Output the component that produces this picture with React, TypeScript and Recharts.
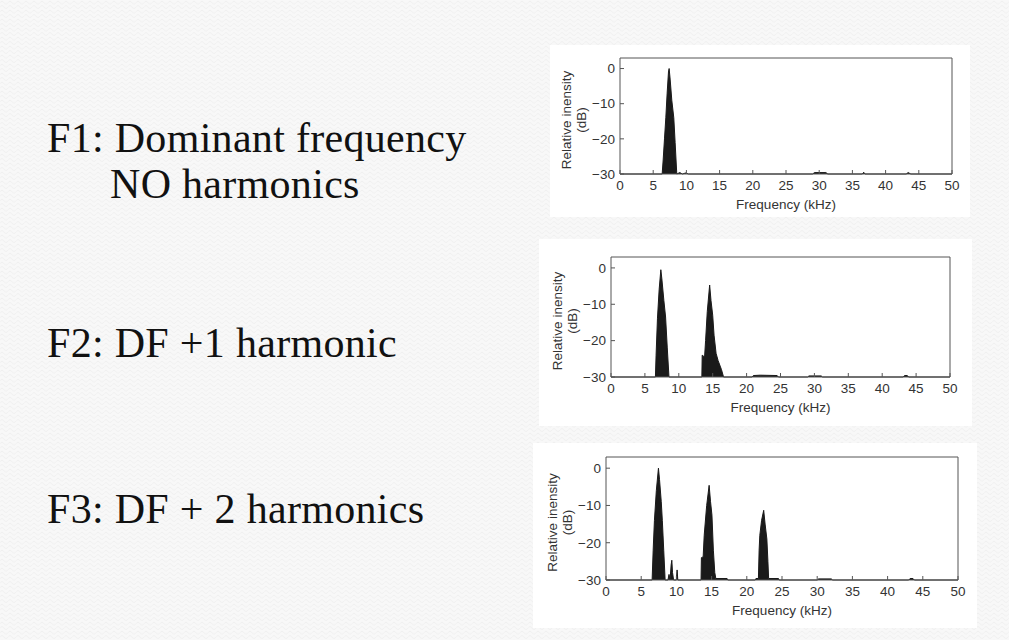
import React from "react";
import { ComposedChart, Area, XAxis, YAxis, Label } from "recharts";

/* ------------------------------------------------------------------ */
/*  Data (kHz vs relative dB)            */
/* ------------------------------------------------------------------ */
const X_TICKS = [0, 5, 10, 15, 20, 25, 30, 35, 40, 45, 50];
const Y_TICKS = [0, -10, -20, -30];
const X_TITLE = "Frequency (kHz)";
const Y_TITLE = ["Relative inensity", "(dB)"];

// F1: dominant frequency only
const F1_KHZ = [0, 6.35, 6.5, 6.7, 6.9, 7.1, 7.3, 7.4, 7.55, 7.8, 8.1, 8.3, 8.55, 9.0, 9.4, 9.9, 10.3, 29.0, 29.3, 31.0, 31.3, 36.5, 36.7, 36.9, 43.1, 43.4, 43.8, 50];
const F1_DB = [-30, -30, -26, -20, -14, -7, -1, 0, -3, -9, -14, -21, -30, -29.6, -30, -29.7, -30, -30, -29.6, -29.6, -30, -30, -29.5, -30, -30, -29.6, -30, -30];

// F2: dominant + 1 harmonic
const F2_KHZ = [0, 6.55, 6.65, 6.85, 7.1, 7.35, 7.5, 7.8, 8.05, 8.3, 8.55, 13.4, 13.45, 13.8, 13.95, 14.2, 14.55, 14.75, 15.0, 15.2, 15.5, 15.8, 16.1, 16.3, 16.6, 20.8, 21.0, 22.0, 24.5, 24.7, 29.0, 29.2, 31.0, 31.2, 43.1, 43.3, 43.7, 43.9, 50];
const F2_DB = [-30, -30, -24, -14, -6, -0.5, -3, -9, -13.5, -22, -30, -30, -24, -24.5, -20, -12, -4.7, -9, -13, -18.5, -23.5, -25.5, -27, -28, -30, -30, -29.6, -29.5, -29.6, -30, -30, -29.7, -29.7, -30, -30, -29.6, -29.6, -30, -30];

// F3: dominant + 2 harmonics
const F3_KHZ = [0, 6.55, 6.7, 6.88, 7.15, 7.45, 7.6, 7.85, 8.0, 8.2, 8.4, 8.8, 8.95, 9.1, 9.25, 9.35, 9.45, 9.6, 10.0, 10.1, 10.2, 13.5, 13.55, 13.8, 13.95, 14.3, 14.65, 14.85, 15.05, 15.25, 15.45, 15.6, 17.2, 17.3, 21.2, 21.3, 21.65, 21.75, 21.85, 22.1, 22.4, 22.6, 22.85, 23.0, 23.1, 24.5, 24.6, 30.0, 30.2, 32.0, 32.2, 43.0, 43.2, 43.6, 43.8, 50];
const F3_DB = [-30, -30, -22, -14, -6, 0, -3, -9, -14, -22, -30, -30, -28.5, -30, -26, -24.7, -28, -30, -30, -27.3, -30, -30, -24, -23.8, -18, -10, -4.6, -9, -12.6, -22, -28, -29.6, -29.6, -30, -30, -29.6, -29.6, -22, -18, -14, -11.3, -15, -19, -25, -29.6, -29.6, -30, -30, -29.7, -29.7, -30, -30, -29.6, -29.6, -30, -30];

const toRows = (khz: number[], db: number[]) => khz.map((f, i) => ({ f, db: db[i] }));

/* ------------------------------------------------------------------ */
/*  Slide layout                                                      */
/* ------------------------------------------------------------------ */
const SLIDE_TEXT = [
  { text: "F1: Dominant frequency", x: 47, y: 152 },
  { text: "NO harmonics", x: 110, y: 198 },
  { text: "F2: DF +1 harmonic", x: 47, y: 357 },
  { text: "F3: DF + 2 harmonics", x: 47, y: 523 },
];

// panel box on the page + plot box [left, top, right, bottom] inside the panel
const PANELS = [
  { key: "f1", left: 550, top: 45, width: 420, height: 172, plot: [70, 13, 402, 129], rows: toRows(F1_KHZ, F1_DB) },
  { key: "f2", left: 539, top: 239, width: 433, height: 187, plot: [72, 18, 411, 138], rows: toRows(F2_KHZ, F2_DB) },
  { key: "f3", left: 533, top: 443, width: 444, height: 185, plot: [73, 14, 425, 137], rows: toRows(F3_KHZ, F3_DB) },
];

const AXIS = "#555";
const INK = "#1a1a1a";
const SANS = "'Liberation Sans', Arial, sans-serif";
const Y_AXIS_W = 40;
const X_AXIS_H = 40;

const fmtDb = (v: number) => (v < 0 ? `\u2212${-v}` : `${v}`);

type Panel = (typeof PANELS)[number];

const Spectrum: React.FC<{ p: Panel }> = ({ p }) => {
  const [pl, pt, pr, pb] = p.plot;
  const margin = {
    left: pl - Y_AXIS_W,
    top: pt - 1,
    right: p.width - pr - 1,
    bottom: p.height - pb - X_AXIS_H,
  };
  const midY = (pt + pb) / 2 + 4;

  return (
    <div
      style={{
        position: "absolute",
        left: p.left,
        top: p.top,
        width: p.width,
        height: p.height,
        background: "#fff",
      }}
    >
      <ComposedChart width={p.width} height={p.height} data={p.rows} margin={margin}>
        <XAxis
          dataKey="f"
          type="number"
          domain={[0, 50]}
          ticks={X_TICKS}
          interval={0}
          stroke={AXIS}
          tickSize={-4}
          tickMargin={10}
          height={X_AXIS_H}
          tick={{ fontSize: 13.5, fill: "#333", fontFamily: SANS }}
        >
          <Label
            value={X_TITLE}
            position="insideBottom"
            offset={5}
            style={{ fontSize: 13.5, fill: "#333", fontFamily: SANS }}
          />
        </XAxis>
        <XAxis
          xAxisId="top"
          orientation="top"
          type="number"
          domain={[0, 50]}
          ticks={X_TICKS}
          interval={0}
          stroke={AXIS}
          tickSize={-4}
          height={1}
          tick={false}
        />
        <YAxis
          type="number"
          domain={[-30, 3]}
          ticks={Y_TICKS}
          interval={0}
          stroke={AXIS}
          tickSize={-4}
          tickMargin={9}
          width={Y_AXIS_W}
          tickFormatter={fmtDb}
          tick={{ fontSize: 13.5, fill: "#333", fontFamily: SANS }}
        >
          <Label
            content={() => (
              <g transform={`translate(${pl - 54},${midY}) rotate(-90)`}>
                <text textAnchor="middle" fontSize={13.5} fill="#333" fontFamily={SANS}>
                  <tspan x={0} y={4.5}>{Y_TITLE[0]}</tspan>
                  <tspan x={0} y={19.5}>{Y_TITLE[1]}</tspan>
                </text>
              </g>
            )}
          />
        </YAxis>
        <YAxis
          yAxisId="right"
          orientation="right"
          type="number"
          domain={[-30, 3]}
          ticks={Y_TICKS}
          interval={0}
          stroke={AXIS}
          tickSize={-4}
          width={1}
          tick={false}
        />
        <Area
          type="linear"
          dataKey="db"
          baseValue={-30}
          stroke={INK}
          strokeWidth={1}
          fill={INK}
          fillOpacity={1}
          dot={false}
          activeDot={false}
          isAnimationActive={false}
        />
      </ComposedChart>
    </div>
  );
};

export default function App() {
  return (
    <div
      style={{
        position: "absolute",
        left: 0,
        top: 0,
        width: 1009,
        height: 640,
        overflow: "hidden",
        background: "#f8f8f8",
      }}
    >
      <svg width={1009} height={640} style={{ position: "absolute", left: 0, top: 0 }}>
        <defs>
          <pattern id="waves" width={8} height={4.5} patternUnits="userSpaceOnUse">
            <path d="M0 2.6 C1 0.8 3 0.8 4 2.6 S7 4.4 8 2.6" fill="none" stroke="#ececec" strokeWidth={0.8} />
          </pattern>
        </defs>
        <rect width={1009} height={640} fill="url(#waves)" />
        {SLIDE_TEXT.map((t) => (
          <text
            key={t.text}
            x={t.x}
            y={t.y}
            fontSize={42}
            letterSpacing={0.3}
            fill="#111"
            fontFamily="'Liberation Serif', 'Times New Roman', serif"
          >
            {t.text}
          </text>
        ))}
      </svg>
      {PANELS.map((p) => (
        <Spectrum key={p.key} p={p} />
      ))}
    </div>
  );
}
